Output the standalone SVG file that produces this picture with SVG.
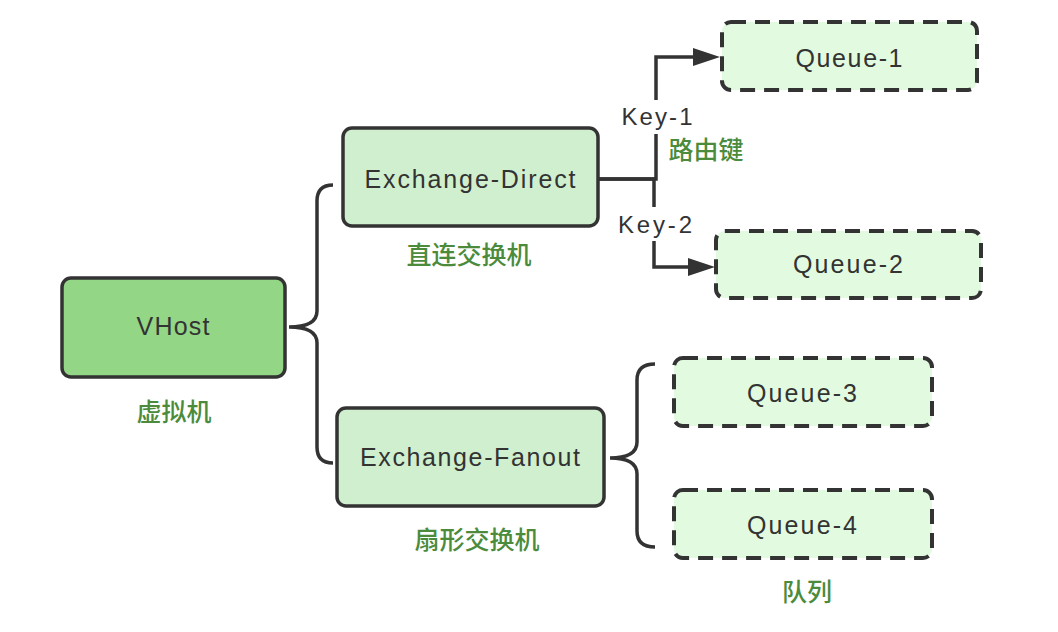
<svg xmlns="http://www.w3.org/2000/svg" width="1058" height="632" viewBox="0 0 1058 632">
<style>
.box{stroke:#333333;stroke-width:3.5}
.vh{fill:#93d686}
.ex{fill:#d0efce}
.q{fill:#e2fbe0;stroke-width:4;stroke-dasharray:15 9}
.t{font-family:"Liberation Sans",Arial,sans-serif;font-size:25px;fill:#333333;text-anchor:middle}
.k{font-family:"Liberation Sans",Arial,sans-serif;font-size:24px;fill:#333333;text-anchor:middle}
.g{font-family:"Noto Sans CJK SC",sans-serif;font-size:25px;font-weight:500;fill:#4b8b3b;text-anchor:middle}
.c{fill:none;stroke:#333333;stroke-width:3.5}
</style>
<defs>
<marker id="ah" markerUnits="userSpaceOnUse" markerWidth="28" markerHeight="20" refX="0" refY="9" orient="auto" viewBox="0 0 28 18">
<path d="M0,0 L27,9 L0,18 z" fill="#333333"/>
</marker>
</defs>
<rect width="1058" height="632" fill="#ffffff"/>
<g id="connectors">
<path class="c" d="M333,185 Q317,185 317,201 L317,311 Q317,327 289,327 Q317,327 317,343 L317,447 Q317,463 333,463"/>
<path class="c" d="M655,364 Q637,364 637,380 L637,442 Q637,458 610,458 Q637,458 637,474 L637,531 Q637,547 655,547"/>
<path class="c" d="M598,179 H656 V57 H693" marker-end="url(#ah)"/>
<path class="c" d="M598,179 H654 V267 H688" marker-end="url(#ah)"/>
<rect x="618" y="100" width="78" height="34" fill="#ffffff"/>
<rect x="614" y="207" width="82" height="34" fill="#ffffff"/>
<text class="k" x="657" y="125" textLength="71" lengthAdjust="spacing">Key-1</text>
<text class="k" x="655" y="233" textLength="74" lengthAdjust="spacing">Key-2</text>
<text class="g" x="706" y="159">路由键</text>
</g>
<g id="vhost">
<rect class="box vh" x="62" y="278" width="223" height="99" rx="9"/>
<text class="t" x="173" y="335" textLength="73" lengthAdjust="spacing">VHost</text>
<text class="g" x="174" y="421">虚拟机</text>
</g>
<g id="exchange-direct">
<rect class="box ex" x="343" y="128" width="255" height="98" rx="9"/>
<text class="t" x="470" y="188" textLength="211" lengthAdjust="spacing">Exchange-Direct</text>
<text class="g" x="469" y="264">直连交换机</text>
</g>
<g id="exchange-fanout">
<rect class="box ex" x="337" y="408" width="267" height="98" rx="9"/>
<text class="t" x="470" y="466" textLength="220" lengthAdjust="spacing">Exchange-Fanout</text>
<text class="g" x="477" y="549">扇形交换机</text>
</g>
<g id="queue-1">
<rect class="box q" x="722" y="22" width="255" height="68" rx="9"/>
<text class="t" x="849" y="67" textLength="107" lengthAdjust="spacing">Queue-1</text>
</g>
<g id="queue-2">
<rect class="box q" x="716" y="231" width="265" height="67" rx="9"/>
<text class="t" x="848" y="273" textLength="110" lengthAdjust="spacing">Queue-2</text>
</g>
<g id="queue-3">
<rect class="box q" x="674" y="358" width="258" height="68" rx="9"/>
<text class="t" x="802" y="402" textLength="110" lengthAdjust="spacing">Queue-3</text>
</g>
<g id="queue-4">
<rect class="box q" x="674" y="490" width="258" height="68" rx="9"/>
<text class="t" x="802" y="534" textLength="110" lengthAdjust="spacing">Queue-4</text>
<text class="g" x="807" y="601">队列</text>
</g>
</svg>
